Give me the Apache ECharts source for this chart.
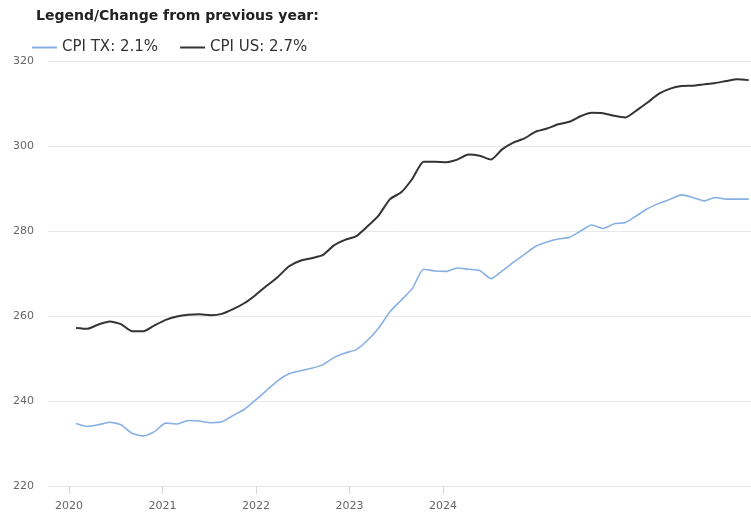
<!DOCTYPE html>
<html>
<head>
<meta charset="utf-8">
<script src="https://cdn.jsdelivr.net/npm/echarts@6/dist/echarts.min.js"></script>
<style>
  html, body { margin: 0; padding: 0; background: #fff; }
  #chart { width: 751px; height: 515px; }
</style>
</head>
<body>
<div id="chart"></div>
<script>
// monthly, Nov 2019 .. Nov 2024
const months = [
  "2019-11", "2019-12",
  "2020-01", "2020-02", "2020-03", "2020-04", "2020-05", "2020-06", "2020-07", "2020-08", "2020-09", "2020-10", "2020-11", "2020-12",
  "2021-01", "2021-02", "2021-03", "2021-04", "2021-05", "2021-06", "2021-07", "2021-08", "2021-09", "2021-10", "2021-11", "2021-12",
  "2022-01", "2022-02", "2022-03", "2022-04", "2022-05", "2022-06", "2022-07", "2022-08", "2022-09", "2022-10", "2022-11", "2022-12",
  "2023-01", "2023-02", "2023-03", "2023-04", "2023-05", "2023-06", "2023-07", "2023-08", "2023-09", "2023-10", "2023-11", "2023-12",
  "2024-01", "2024-02", "2024-03", "2024-04", "2024-05", "2024-06", "2024-07", "2024-08", "2024-09", "2024-10", "2024-11"
];

const cpiTX = [
  234.7, 234.0,
  234.4, 235.0, 234.4, 232.4, 231.8, 232.8, 234.8, 234.6, 235.4, 235.3, 234.9, 235.1,
  236.6, 238.0, 240.2, 242.5, 244.8, 246.4, 247.1, 247.7, 248.5, 250.2, 251.3, 252.1,
  254.3, 257.2, 261.0, 263.7, 266.5, 271.0, 270.6, 270.5, 271.3, 271.0, 270.7, 268.8,
  270.6, 272.6, 274.5, 276.4, 277.4, 278.1, 278.5, 280.0, 281.4, 280.6, 281.7, 282.0,
  283.6, 285.3, 286.5, 287.5, 288.5, 287.9, 287.1, 287.9, 287.5, 287.5, 287.5
];

const cpiUS = [
  257.2, 257.0,
  258.0, 258.7, 258.1, 256.4, 256.4, 257.8, 259.1, 259.9, 260.3, 260.4, 260.2, 260.5,
  261.6, 263.0, 264.9, 267.1, 269.2, 271.7, 273.0, 273.6, 274.3, 276.6, 277.9, 278.8,
  281.1, 283.7, 287.5, 289.1, 292.3, 296.3, 296.3, 296.2, 296.8, 298.0, 297.7, 296.8,
  299.2, 300.8, 301.8, 303.4, 304.1, 305.1, 305.7, 307.0, 307.8, 307.7, 307.1, 306.7,
  308.4, 310.3, 312.3, 313.5, 314.1, 314.2, 314.5, 314.8, 315.3, 315.7, 315.5
];

const seriesNames = ["CPI TX: 2.1%", "CPI US: 2.7%"];
const yearLabels = [2020, 2021, 2022, 2023, 2024];

const chart = echarts.init(document.getElementById("chart"));

const toPoints = (vals) => months.map((m, i) => [i, vals[i]]);

const option = {
  animation: false,
  textStyle: { fontFamily: "DejaVu Sans" },
  title: {
    text: "Legend/Change from previous year:",
    left: 31,
    top: 4,
    textStyle: { fontSize: 14, fontWeight: "bold", color: "#222", fontFamily: "DejaVu Sans" }
  },
  legend: {
    data: seriesNames,
    left: 27,
    top: 35,
    icon: "rect",
    itemWidth: 25,
    itemHeight: 2,
    itemGap: 22,
    textStyle: { fontSize: 15, color: "#333" }
  },
  grid: { left: 48, right: 0, top: 61, bottom: 29 },
  xAxis: [
    {
      // data axis, month index
      type: "value",
      min: -2.5,
      max: 60.2,
      show: false
    },
    {
      // year label axis
      type: "value",
      position: "bottom",
      min: 2019.775,
      max: 2027.294,
      axisLine: { show: true, lineStyle: { color: "#e6e6e6" } },
      axisTick: { show: true, length: 8, customValues: yearLabels, lineStyle: { color: "#d4d4d4" } },
      axisLabel: {
        customValues: yearLabels,
        formatter: (v) => String(v),
        color: "#666",
        fontSize: 11,
        margin: 15
      },
      splitLine: { show: false }
    }
  ],
  yAxis: {
    type: "value",
    min: 220,
    max: 320,
    interval: 20,
    axisLine: { show: false },
    axisTick: { show: false },
    axisLabel: { color: "#666", fontSize: 11, margin: 14 },
    splitLine: { lineStyle: { color: "#e8e8e8" } }
  },
  series: [
    {
      name: seriesNames[0],
      type: "line",
      xAxisIndex: 0,
      data: toPoints(cpiTX),
      showSymbol: false,
      smooth: 0.2,
      color: "#86b0e3",
      lineStyle: { width: 1.6, color: "#86b0e3" }
    },
    {
      name: seriesNames[1],
      type: "line",
      xAxisIndex: 0,
      data: toPoints(cpiUS),
      showSymbol: false,
      smooth: 0.2,
      color: "#333",
      lineStyle: { width: 2, color: "#333" }
    }
  ]
};

chart.setOption(option);
</script>
</body>
</html>
